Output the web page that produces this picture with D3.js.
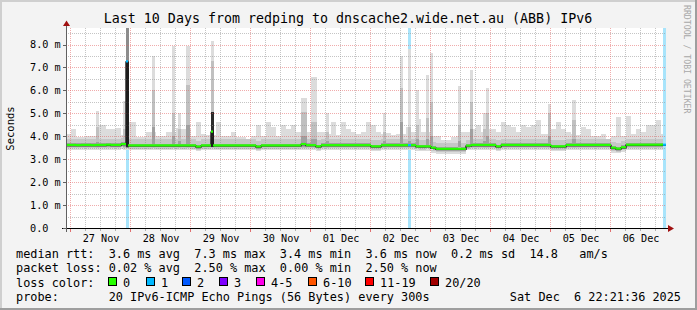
<!DOCTYPE html>
<html><head><meta charset="utf-8">
<script src="https://cdn.jsdelivr.net/npm/d3@7"></script>
<style>
html,body{margin:0;padding:0;background:#f3f3f3;}
svg{display:block;}
text{font-family:"DejaVu Sans Mono",monospace;white-space:pre;}
</style>
</head><body>
<svg id="c" width="697" height="310"></svg>
<script>
// ---------------- DATA ----------------
const titleText = "Last 10 Days from redping to dnscache2.wide.net.au (ABB) IPv6";
const yAxisTitle = "Seconds";
const sideText = "RRDTOOL / TOBI OETIKER";
const startTime = new Date(2025, 10, 26, 22, 21, 36);
const endTime = new Date(2025, 11, 6, 22, 21, 36);
const yTickValues = [0, 1, 2, 3, 4, 5, 6, 7, 8];
const yTickLabels = ["0.0", "1.0 m", "2.0 m", "3.0 m", "4.0 m", "5.0 m", "6.0 m", "7.0 m", "8.0 m"];
const dayLabels = ["27 Nov", "28 Nov", "29 Nov", "30 Nov", "01 Dec", "02 Dec", "03 Dec", "04 Dec", "05 Dec", "06 Dec"];

// smoke columns: one value every 2 hours (ms) - top of the smoke
const smokeTop = [
 4.1,4.3,3.95,3.95,4.0,4.0,4.5,4.5,4.3,4.3,
 4.35,4.05,4.6,4.6,3.95,3.95,4.2,4.2,4.0,4.0,
 4.2,4.2,4.35,4.3,4.3,4.0,4.6,4.1,4.05,4.05,
 4.6,4.0,4.0,4.2,3.95,3.95,3.9,4.0,4.5,4.0,
 4.6,4.4,4.0,4.5,4.3,4.5,4.2,4.2,4.2,4.3,
 4.2,4.2,4.1,4.6,4.05,4.6,4.3,4.2,4.1,4.2,
 4.6,4.5,4.2,4.1,4.15,4.05,4.1,4.1,4.4,4.2,
 4.75,4.2,4.2,4.0,4.0,3.85,3.85,3.95,4.0,4.2,
 4.2,4.3,4.5,4.2,4.3,4.3,4.2,4.6,4.5,4.4,
 4.2,4.5,4.4,4.5,4.7,4.1,4.1,4.3,4.6,4.3,
 4.2,4.1,4.05,4.4,4.3,4.0,4.0,4.1,3.9,4.0,
 4.85,4.0,4.9,4.1,4.3,4.2,4.5,4.5,4.7,4.1
];
// median rtt per 2-hour column (ms)
const medianRtt = [
 3.60,3.60,3.59,3.60,3.60,3.59,3.60,3.60,3.61,3.60,
 3.60,3.64,3.58,3.58,3.58,3.58,3.58,3.58,3.58,3.58,
 3.58,3.58,3.58,3.58,3.58,3.58,3.53,3.58,3.58,3.58,
 3.58,3.58,3.58,3.58,3.58,3.58,3.58,3.58,3.53,3.58,
 3.58,3.58,3.58,3.58,3.58,3.58,3.58,3.64,3.59,3.59,
 3.54,3.59,3.59,3.59,3.59,3.59,3.59,3.59,3.59,3.59,
 3.59,3.54,3.54,3.59,3.59,3.59,3.59,3.59,3.59,3.59,
 3.54,3.54,3.54,3.48,3.43,3.43,3.43,3.43,3.43,3.43,
 3.57,3.60,3.60,3.60,3.60,3.60,3.54,3.60,3.60,3.60,
 3.60,3.60,3.60,3.60,3.60,3.60,3.60,3.54,3.54,3.54,
 3.60,3.60,3.60,3.60,3.60,3.60,3.60,3.60,3.60,3.48,
 3.44,3.50,3.61,3.61,3.61,3.61,3.61,3.61,3.61,3.61
];
// narrow smoke spikes: start (hours from start), duration (h), top, mid, dark (ms)
const spikeHour = [12.0,22.8,24.0,34.4,42.4,44.8,48.0,58.0,94.0,98.0,104.0,126.8,133.6,136.8,140.0,144.0,145.6,156.8,161.6,166.8,168.0,192.8,202.4];
const spikeDur  = [1.0,1.0,1.0,1.2,1.2,1.2,1.6,1.0,2.4,2.4,1.0,1.2,1.2,1.2,1.0,1.0,1.2,1.2,1.2,1.2,1.0,1.2,1.6];
const spikeTop  = [5.1,5.53,8.72,7.49,7.94,5.0,7.94,8.16,5.65,6.6,5.0,5.0,7.49,7.8,6.0,6.66,7.65,6.18,6.88,5.0,6.11,5.4,5.58];
const spikeMid  = [4.4,4.3,8.72,6.0,5.0,4.3,6.23,7.3,5.07,4.6,4.2,4.2,6.1,4.4,4.5,4.8,5.5,4.5,5.5,4.3,5.0,5.0,4.7];
const spikeDark = [3.75,3.75,7.24,4.4,4.0,3.8,4.5,5.07,4.0,3.9,3.8,3.8,4.6,3.8,3.9,3.9,4.0,3.8,4.3,3.8,4.0,4.0,3.9];
// median points with packet loss or jumps
const medSpikeHour  = [24.0, 58.0, 136.8, 238.8];
const medSpikeDur   = [0.8, 0.8, 1.2, 1.2];
const medSpikeValue = [7.24, 4.18, 3.59, 3.61];
const medSpikeLoss  = [1, 0, 1, 1];
// packet loss background bars
const lossHour = [24.0, 136.8, 238.8];
const lossDur  = [1.0, 1.2, 1.2];

const rttStats = ["3.6 ms avg", "7.3 ms max", "3.4 ms min", "3.6 ms now", "0.2 ms sd", "14.8 ", "am/s"];
const lossStats = ["0.02 % avg", "2.50 % max", "0.00 % min", "2.50 % now"];
const lossColorLabels = ["0", "1", "2", "3", "4-5", "6-10", "11-19", "20/20"];
const lossColors = ["#26ff00", "#00b8ff", "#0059ff", "#7e00ff", "#ff00ea", "#ff5500", "#ff0000", "#a10000"];
const probeText = "20 IPv6-ICMP Echo Pings (56 Bytes) every 300s";
const dateText = "Sat Dec  6 22:21:36 2025";

// ---------------- DRAW ----------------
const W = 697, H = 310;
const L = 66, R = 666, T = 28, B = 228;
const svg = d3.select("#c");
const hrs = h => new Date(+startTime + h * 3600e3);
const x = d3.scaleTime().domain([startTime, endTime]).range([L, R]);
const y = d3.scaleLinear().domain([0, 8.72]).range([B, T]);
const px = t => Math.round(x(t));
const py = v => Math.round(y(v));

// background + 3D frame
svg.append("rect").attr("width", W).attr("height", H).attr("fill", "#f3f3f3");
svg.append("rect").attr("x", 0).attr("y", 0).attr("width", W).attr("height", 2).attr("fill", "#cfcfcf");
svg.append("rect").attr("x", 0).attr("y", 0).attr("width", 2).attr("height", H).attr("fill", "#cfcfcf");
svg.append("rect").attr("x", 0).attr("y", H - 2).attr("width", W).attr("height", 2).attr("fill", "#9e9e9e");
svg.append("rect").attr("x", W - 2).attr("y", 0).attr("width", 2).attr("height", H).attr("fill", "#9e9e9e");

// canvas
svg.append("rect").attr("x", L).attr("y", T).attr("width", R - L).attr("height", B - T).attr("fill", "#ffffff");

const gSmoke = svg.append("g").attr("shape-rendering", "crispEdges");
function band(g, x0, x1, v0, v1, col) {
  const a = py(v1), b = py(v0);
  if (b - a <= 0) return;
  g.append("rect").attr("x", x0).attr("y", a).attr("width", Math.max(1, x1 - x0)).attr("height", b - a).attr("fill", col);
}
const C_LIGHT = "#dcdcdc", C_MID = "#c6c6c6", C_DARK = "#a0a0a0";

// base smoke
smokeTop.forEach((top, i) => {
  const m = medianRtt[i];
  const x0 = px(hrs(2 * i)), x1 = px(hrs(2 * i + 2));
  band(gSmoke, x0, x1, m - 0.19, top, C_LIGHT);
  band(gSmoke, x0, x1, m - 0.12, Math.min(top, m + 0.28), C_MID);
  band(gSmoke, x0, x1, m - 0.07, Math.min(top, m + 0.1), C_DARK);
});

// packet loss bars
const gLoss = svg.append("g").attr("shape-rendering", "crispEdges");
lossHour.forEach((h, i) => {
  const x0 = px(hrs(h)), x1 = px(hrs(h + lossDur[i]));
  gLoss.append("rect").attr("x", x0).attr("y", T).attr("width", Math.max(2, x1 - x0)).attr("height", B - T).attr("fill", "#a8e4fb");
});

// spikes
const gSp = svg.append("g").attr("shape-rendering", "crispEdges");
spikeHour.forEach((h, i) => {
  const x0 = px(hrs(h)), x1 = Math.max(px(hrs(h + spikeDur[i])), x0 + 2);
  band(gSp, x0, x1, 3.41, spikeTop[i], C_LIGHT);
  band(gSp, x0, x1, 3.47, spikeMid[i], spikeMid[i] > 8 ? "#8c8c8c" : "#c0c0c0");
  band(gSp, x0, x1, 3.52, spikeDark[i], spikeDark[i] > 5 ? "#2a2a2a" : C_DARK);
});

// grid (drawn over the smoke)
const gGrid = svg.append("g").attr("shape-rendering", "crispEdges").attr("stroke-dasharray", "1,1");
const minorCol = "rgba(150,150,150,0.55)", majorCol = "rgba(225,90,90,0.5)";
const dayTicks = d3.timeDay.range(startTime, endTime);
const sixTicks = d3.timeHour.every(6).range(startTime, endTime).filter(d => d.getHours() !== 0);
sixTicks.forEach(d => {
  const xx = px(d) + 0.5;
  gGrid.append("line").attr("x1", xx).attr("x2", xx).attr("y1", T).attr("y2", B).attr("stroke", minorCol);
});
d3.range(0.5, 8.6, 1).forEach(v => {
  const yy = py(v) + 0.5;
  gGrid.append("line").attr("x1", L).attr("x2", R).attr("y1", yy).attr("y2", yy).attr("stroke", minorCol);
});
dayTicks.forEach(d => {
  const xx = px(d) + 0.5;
  gGrid.append("line").attr("x1", xx).attr("x2", xx).attr("y1", T).attr("y2", B).attr("stroke", majorCol);
});
yTickValues.filter(v => v > 0).forEach(v => {
  const yy = py(v) + 0.5;
  gGrid.append("line").attr("x1", L).attr("x2", R).attr("y1", yy).attr("y2", yy).attr("stroke", majorCol);
});

// median line segments
let segs = medianRtt.map((v, i) => ({ t0: 2 * i, t1: 2 * i + 2, v: v, loss: 0 }));
medSpikeHour.forEach((h, k) => {
  const e = h + medSpikeDur[k];
  const out = [];
  segs.forEach(s => {
    if (s.t1 <= h || s.t0 >= e) { out.push(s); return; }
    if (s.t0 < h) out.push({ t0: s.t0, t1: h, v: s.v, loss: s.loss });
    if (s.t1 > e) out.push({ t0: e, t1: s.t1, v: s.v, loss: s.loss });
  });
  out.push({ t0: h, t1: Math.min(e, 240), v: medSpikeValue[k], loss: medSpikeLoss[k] });
  out.sort((a, b) => a.t0 - b.t0);
  segs = out;
});
const pts = [];
segs.forEach(s => { pts.push([x(hrs(s.t0)), y(s.v)]); pts.push([x(hrs(s.t1)), y(s.v)]); });
svg.append("path").attr("d", d3.line()(pts)).attr("fill", "none").attr("stroke", "#1a1a1a").attr("stroke-width", 1.4);
const gMed = svg.append("g");
segs.forEach(s => {
  const yy = y(s.v) - 0.5;
  gMed.append("line").attr("x1", x(hrs(s.t0))).attr("x2", Math.max(x(hrs(s.t1)), x(hrs(s.t0)) + 1.5))
    .attr("y1", yy).attr("y2", yy).attr("stroke", lossColors[s.loss]).attr("stroke-width", 2.2);
});

// axes
const gAx = svg.append("g").attr("shape-rendering", "crispEdges");
gAx.append("line").attr("x1", 62).attr("x2", 670).attr("y1", B + 0.5).attr("y2", B + 0.5).attr("stroke", "#000");
gAx.append("line").attr("x1", L + 0.5).attr("x2", L + 0.5).attr("y1", B + 4).attr("y2", 24).attr("stroke", "#606060");
yTickValues.forEach(v => {
  const yy = py(v) + 0.5;
  gAx.append("line").attr("x1", L - 3).attr("x2", L).attr("y1", yy).attr("y2", yy).attr("stroke", "#606060");
});
dayTicks.forEach(d => {
  const xx = px(d) + 0.5;
  gAx.append("line").attr("x1", xx).attr("x2", xx).attr("y1", B + 1).attr("y2", B + 4).attr("stroke", "#e07070");
});
sixTicks.forEach(d => {
  const xx = px(d) + 0.5;
  gAx.append("line").attr("x1", xx).attr("x2", xx).attr("y1", B + 1).attr("y2", B + 3).attr("stroke", "#b0b0b0");
});
svg.append("path").attr("d", "M63,26L66.5,20.5L70,26Z").attr("fill", "#a01010");
svg.append("path").attr("d", "M668,225L674,228.5L668,232Z").attr("fill", "#a01010");

// tick labels
yTickValues.forEach((v, i) => {
  svg.append("text").attr("x", 30).attr("y", y(v) + 3.6).attr("font-size", "10.2px").attr("fill", "#000").text(yTickLabels[i]);
});
dayTicks.forEach((d, i) => {
  svg.append("text").attr("x", x(d3.timeHour.offset(d, 12)) + 1).attr("y", 241.5).attr("text-anchor", "middle")
    .attr("font-size", "10.2px").attr("fill", "#000").text(dayLabels[i]);
});

// title & side labels
svg.append("text").attr("x", 348).attr("y", 23).attr("text-anchor", "middle").attr("font-size", "13.3px").attr("fill", "#000").text(titleText);
svg.append("text").attr("transform", "translate(14,128.5) rotate(-90)").attr("text-anchor", "middle").attr("font-size", "10.5px").attr("fill", "#000").text(yAxisTitle);
svg.append("text").attr("transform", "translate(684,5) rotate(90)").attr("font-size", "8.2px").attr("fill", "#a8a8a8").text(sideText);

// legend
const LF = "11.85px";
const leg = (xx, yy, t) => svg.append("text").attr("x", xx).attr("y", yy).attr("font-size", LF).attr("fill", "#000").text(t);
leg(16, 257.5, "median rtt:  " + rttStats.join("  "));
leg(16, 272, "packet loss: " + lossStats.join("  "));
leg(16, 286.5, "loss color:");
const boxX = [108, 146, 182, 219, 256, 308, 365, 430];
lossColorLabels.forEach((lab, i) => {
  svg.append("rect").attr("x", boxX[i] + 0.5).attr("y", 277.5).attr("width", 8).attr("height", 8)
    .attr("fill", lossColors[i]).attr("stroke", "#000").attr("stroke-width", 1);
  leg(boxX[i] + 15, 286.5, lab);
});
leg(16, 301, "probe:       " + probeText);
svg.append("text").attr("x", 681).attr("y", 301).attr("text-anchor", "end").attr("font-size", LF).attr("fill", "#000").text(dateText);
</script>
</body></html>
